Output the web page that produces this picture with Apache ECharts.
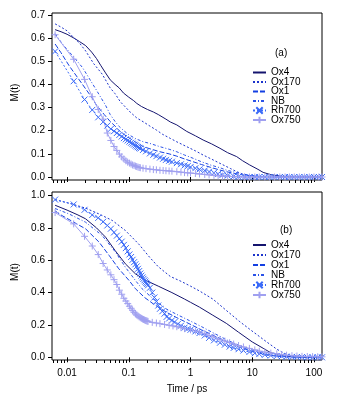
<!DOCTYPE html>
<html><head><meta charset="utf-8">
<script src="https://cdn.jsdelivr.net/npm/echarts@6/dist/echarts.min.js"></script>
<style>html,body{margin:0;padding:0;background:#fff}#c{width:347px;height:401px}</style>
</head><body><div id="c"></div>
<script>
// ---------- data ----------
var seriesNames = ['Ox4','Ox170','Ox1','NB','Rh700','Ox750'];
var majorTicksX = [0.01,0.1,1,10,100];
var minorTicksX = [0.006,0.007,0.008,0.009,0.02,0.03,0.04,0.05,0.06,0.07,0.08,0.09,0.2,0.3,0.4,0.5,0.6,0.7,0.8,0.9,2,3,4,5,6,7,8,9,20,30,40,50,60,70,80,90];
var topTicksY = [0,0.1,0.2,0.3,0.4,0.5,0.6,0.7];
var botTicksY = [0,0.2,0.4,0.6,0.8,1.0];

// panel (a)
var topOx4 = [[0.0064,0.637],[0.008,0.628],[0.01,0.617],[0.013,0.600],[0.016,0.585],[0.02,0.568],[0.025,0.540],[0.03,0.512],[0.035,0.483],[0.042,0.450],[0.05,0.420],[0.06,0.400],[0.07,0.385],[0.082,0.363],[0.1,0.345],[0.12,0.330],[0.135,0.318],[0.16,0.305],[0.2,0.292],[0.25,0.281],[0.3,0.270],[0.4,0.250],[0.47,0.238],[0.6,0.225],[0.87,0.197],[1.2,0.178],[1.6,0.160],[2.2,0.143],[3,0.124],[4,0.105],[5.6,0.088],[7,0.070],[9.1,0.052],[12.4,0.033],[15,0.020],[20,0.010],[30,0.003],[50,0.001],[80,0],[135,0]];
var topOx170 = [[0.0064,0.662],[0.008,0.648],[0.01,0.632],[0.0128,0.603],[0.016,0.578],[0.02,0.545],[0.027,0.49],[0.037,0.445],[0.05,0.385],[0.06,0.36],[0.073,0.325],[0.09,0.3],[0.105,0.281],[0.135,0.255],[0.173,0.238],[0.22,0.22],[0.28,0.203],[0.35,0.185],[0.47,0.167],[0.6,0.152],[0.87,0.131],[1.2,0.113],[1.6,0.095],[2.2,0.077],[3,0.059],[4.4,0.037],[5.6,0.023],[7.5,0.01],[10,0.004],[15,0.001],[25,0],[135,0]];
var topOx1 = [[0.0064,0.575],[0.0079,0.539],[0.0108,0.481],[0.0147,0.431],[0.02,0.381],[0.025,0.345],[0.03,0.31],[0.04,0.27],[0.05,0.24],[0.06,0.22],[0.07,0.2],[0.085,0.183],[0.1,0.17],[0.13,0.15],[0.173,0.131],[0.22,0.122],[0.32,0.109],[0.45,0.1],[0.6,0.09],[0.8,0.078],[1.1,0.066],[1.5,0.054],[2.1,0.042],[3,0.03],[3.8,0.023],[5,0.016],[7,0.009],[10,0.004],[14,0.001],[20,0],[135,0]];
var topNB = [[0.0064,0.62],[0.0084,0.575],[0.0122,0.525],[0.0177,0.474],[0.024,0.417],[0.03,0.375],[0.035,0.345],[0.042,0.31],[0.05,0.27],[0.06,0.24],[0.07,0.218],[0.085,0.198],[0.1,0.183],[0.13,0.165],[0.173,0.152],[0.22,0.145],[0.32,0.131],[0.45,0.12],[0.6,0.109],[0.8,0.095],[1.1,0.081],[1.5,0.066],[2.1,0.052],[3,0.04],[3.8,0.03],[5,0.022],[7,0.013],[10,0.006],[14,0.002],[20,0],[135,0]];
var topRh700 = [[0.0064,0.543],[0.0128,0.414],[0.0192,0.335],[0.0256,0.290],[0.032,0.258],[0.0384,0.238],[0.0448,0.222],[0.0512,0.208],[0.0576,0.198],[0.064,0.19],[0.0704,0.182],[0.0768,0.175],[0.0832,0.168],[0.0896,0.163],[0.096,0.158],[0.1024,0.153],[0.1088,0.148],[0.1152,0.144],[0.1216,0.140],[0.128,0.136],[0.1344,0.132],[0.1408,0.129],[0.1472,0.126],[0.1536,0.123],[0.17,0.117],[0.19,0.111],[0.22,0.102],[0.25,0.096],[0.28,0.09],[0.32,0.084],[0.36,0.079],[0.4,0.074],[0.45,0.07],[0.5,0.066],[0.6,0.06],[0.7,0.055],[0.8,0.05],[0.9,0.047],[1,0.043],[1.2,0.038],[1.4,0.033],[1.7,0.028],[2,0.023],[2.4,0.018],[2.8,0.013],[3.3,0.009],[4,0.006],[5,0.003],[6,0.001],[7.5,0],[9,0],[11,0],[13,0],[16,0],[19,0],[23,0],[28,0],[34,0],[40,0],[48,0],[58,0],[70,0],[84,0],[100,0],[120,0],[135,0]];
var topOx750 = [[0.0064,0.615],[0.0128,0.509],[0.0192,0.422],[0.0256,0.347],[0.032,0.292],[0.0384,0.25],[0.0448,0.19],[0.0512,0.158],[0.0576,0.132],[0.064,0.115],[0.0704,0.099],[0.0768,0.087],[0.0832,0.078],[0.0896,0.07],[0.096,0.064],[0.1024,0.06],[0.1088,0.056],[0.1152,0.052],[0.1216,0.05],[0.128,0.047],[0.1344,0.045],[0.1408,0.043],[0.1472,0.041],[0.1536,0.04],[0.17,0.038],[0.19,0.036],[0.22,0.034],[0.25,0.032],[0.28,0.031],[0.32,0.029],[0.36,0.028],[0.4,0.027],[0.45,0.026],[0.5,0.025],[0.6,0.023],[0.7,0.021],[0.8,0.019],[0.9,0.018],[1,0.017],[1.2,0.015],[1.4,0.013],[1.7,0.011],[2,0.009],[2.4,0.007],[2.8,0.005],[3.3,0.004],[4,0.003],[5,0.002],[6,0.001],[7.5,0],[9,0],[11,0],[13,0],[16,0],[19,0],[23,0],[28,0],[34,0],[40,0],[48,0],[58,0],[70,0],[84,0],[100,0],[120,0],[135,0]];

// panel (b)
var botOx4 = [[0.0064,0.94],[0.01,0.91],[0.015,0.88],[0.02,0.856],[0.03,0.80],[0.042,0.743],[0.06,0.66],[0.088,0.578],[0.128,0.516],[0.19,0.475],[0.3,0.44],[0.5,0.40],[0.8,0.36],[1,0.34],[1.4,0.31],[2.3,0.26],[3.8,0.21],[6,0.155],[10,0.095],[15,0.056],[20,0.028],[33,0.008],[50,0.002],[135,0]];
var botOx170 = [[0.0064,0.975],[0.012,0.948],[0.02,0.922],[0.033,0.886],[0.054,0.846],[0.088,0.784],[0.145,0.70],[0.216,0.62],[0.3,0.56],[0.47,0.50],[0.7,0.47],[1,0.44],[1.4,0.41],[2.3,0.36],[3.8,0.29],[6.3,0.22],[10.3,0.158],[17,0.096],[25,0.05],[35,0.02],[50,0.007],[80,0.002],[135,0]];
var botNB = [[0.0064,0.92],[0.0108,0.886],[0.02,0.835],[0.037,0.753],[0.061,0.65],[0.088,0.557],[0.128,0.475],[0.164,0.424],[0.25,0.36],[0.4,0.30],[0.6,0.265],[0.87,0.235],[1.5,0.19],[2.5,0.145],[4,0.105],[6,0.075],[10,0.043],[18,0.016],[30,0.005],[50,0.001],[135,0]];
var botOx1 = [[0.0064,0.905],[0.0083,0.876],[0.02,0.794],[0.033,0.712],[0.048,0.63],[0.069,0.547],[0.101,0.475],[0.128,0.424],[0.18,0.37],[0.25,0.33],[0.4,0.28],[0.6,0.245],[0.87,0.215],[1.5,0.17],[2.5,0.13],[4,0.095],[6,0.065],[10,0.036],[18,0.013],[30,0.004],[50,0.001],[135,0]];
var botRh700 = [[0.0064,0.975],[0.0128,0.945],[0.0192,0.912],[0.0256,0.88],[0.032,0.862],[0.0384,0.838],[0.0448,0.815],[0.0512,0.795],[0.0576,0.772],[0.064,0.752],[0.0704,0.733],[0.0768,0.715],[0.0832,0.695],[0.0896,0.675],[0.096,0.655],[0.1024,0.636],[0.1088,0.62],[0.1152,0.603],[0.1216,0.588],[0.128,0.575],[0.1344,0.562],[0.1408,0.547],[0.1472,0.533],[0.1536,0.518],[0.16,0.505],[0.1664,0.494],[0.1728,0.485],[0.1792,0.476],[0.1856,0.468],[0.192,0.46],[0.1984,0.453],[0.2048,0.445],[0.22,0.43],[0.24,0.40],[0.26,0.37],[0.28,0.345],[0.3,0.32],[0.32,0.30],[0.35,0.285],[0.38,0.27],[0.41,0.25],[0.45,0.24],[0.5,0.228],[0.55,0.218],[0.62,0.205],[0.7,0.195],[0.8,0.183],[0.9,0.176],[1,0.17],[1.2,0.16],[1.4,0.15],[1.7,0.135],[2,0.12],[2.4,0.105],[3,0.09],[3.6,0.078],[4.3,0.066],[5,0.058],[6,0.05],[7.2,0.042],[9,0.033],[11,0.025],[13,0.02],[16,0.015],[20,0.011],[25,0.008],[30,0.006],[36,0.004],[44,0.003],[53,0.002],[64,0.001],[78,0],[95,0],[115,0],[135,0]];
var botOx750 = [[0.0064,0.895],[0.0128,0.825],[0.0192,0.748],[0.0256,0.688],[0.032,0.635],[0.0384,0.58],[0.0448,0.54],[0.0512,0.51],[0.0576,0.48],[0.064,0.45],[0.0704,0.415],[0.0768,0.39],[0.0832,0.365],[0.0896,0.348],[0.096,0.332],[0.1024,0.316],[0.1088,0.303],[0.1152,0.29],[0.1216,0.278],[0.128,0.268],[0.1344,0.262],[0.1408,0.256],[0.1472,0.25],[0.1536,0.245],[0.16,0.241],[0.1664,0.237],[0.1728,0.234],[0.1792,0.231],[0.1856,0.228],[0.192,0.226],[0.1984,0.224],[0.2048,0.222],[0.24,0.216],[0.28,0.212],[0.32,0.208],[0.38,0.203],[0.45,0.198],[0.52,0.194],[0.6,0.189],[0.7,0.183],[0.8,0.177],[1,0.17],[1.2,0.163],[1.4,0.157],[1.7,0.146],[2,0.135],[2.4,0.125],[3,0.11],[3.6,0.1],[4.3,0.09],[5,0.082],[6,0.073],[7.2,0.064],[9,0.055],[11,0.046],[13,0.038],[16,0.032],[20,0.026],[25,0.021],[30,0.017],[36,0.013],[44,0.01],[53,0.008],[64,0.006],[78,0.005],[95,0.004],[115,0.003],[135,0.003]];

// ---------- styles ----------
var FONT = 'Liberation Sans, Arial, sans-serif';
var styles = {
  Ox4:   {color:'#14146e', type:'solid', symbol:'none'},
  Ox170: {color:'#1c34cc', type:[2,2], symbol:'none'},
  Ox1:   {color:'#1440e2', type:[5,2], symbol:'none'},
  NB:    {color:'#2a52e8', type:[3,2,1,2], symbol:'none'},
  Rh700: {color:'#3a6af8', type:[2,2], symbol:'path://M0,0L10,10M10,0L0,10', size:6},
  Ox750: {color:'#a0a0f0', type:'solid', symbol:'path://M5,0L5,10M0,5L10,5', size:7}
};
function mk(name, data, xi, yi) {
  var s = styles[name];
  return {
    name: name, type: 'line', xAxisIndex: xi, yAxisIndex: yi, data: data,
    lineStyle: {color: s.color, width: 1, type: s.type},
    itemStyle: {color: s.color, borderColor: s.color, borderWidth: 1},
    symbol: s.symbol, showSymbol: s.symbol !== 'none', showAllSymbol: true,
    symbolSize: s.size || 4, animation: false, silent: true
  };
}

var xMin = 0.0057, xMax = 135;
function xMajor(gi, showLabel) {
  return {type:'log', gridIndex:gi, min:xMin, max:xMax, position:'bottom',
    axisLine:{show:false}, splitLine:{show:false}, minorTick:{show:false},
    axisTick:{show:true, inside:false, length:5, customValues:majorTicksX, lineStyle:{color:'#000', width:1}},
    axisLabel:{show:showLabel, customValues:majorTicksX, color:'#000', fontSize:10, fontFamily:FONT, margin:8,
      formatter:function(v){ return String(+v.toPrecision(3)); }},
    name: showLabel ? 'Time / ps' : '', nameLocation:'middle', nameGap:24,
    nameTextStyle:{color:'#000', fontSize:10, fontFamily:FONT}};
}
function xMinor(gi) {
  return {type:'log', gridIndex:gi, min:xMin, max:xMax, position:'bottom',
    axisLine:{show:false}, splitLine:{show:false}, axisLabel:{show:false},
    axisTick:{show:true, inside:false, length:3, customValues:minorTicksX, lineStyle:{color:'#000', width:1}}};
}
function yAx(gi, mn, mx, ticks) {
  return {type:'value', gridIndex:gi, min:mn, max:mx,
    axisLine:{show:false}, splitLine:{show:false},
    axisTick:{show:true, inside:false, length:4, customValues:ticks, lineStyle:{color:'#000'}},
    axisLabel:{customValues:ticks, color:'#000', fontSize:10, fontFamily:FONT, margin:7,
      formatter:function(v){ return v.toFixed(1); }},
    name:'M(t)', nameLocation:'middle', nameGap:30.5, nameRotate:90,
    nameTextStyle:{color:'#000', fontSize:10, fontFamily:FONT, padding:[0,0,0,8]}};
}
function legendItems() {
  return seriesNames.map(function(n){
    return styles[n].symbol === 'none' ? {name:n, itemStyle:{opacity:0}} : {name:n};
  });
}
function legend(top, gap) {
  return {orient:'vertical', left:252, top:top, padding:0, itemGap:gap, itemWidth:13, itemHeight:8,
    data:legendItems(), selectedMode:false,
    textStyle:{color:'#000', fontSize:10, fontFamily:FONT, lineHeight:8}};
}

var chart = echarts.init(document.getElementById('c'), null, {renderer:'canvas'});
chart.setOption({
  animation:false,
  grid:[
    {left:52, top:13, width:270, height:167, show:true, borderColor:'#000', borderWidth:1, backgroundColor:'transparent'},
    {left:52, top:192, width:270, height:168, show:true, borderColor:'#000', borderWidth:1, backgroundColor:'transparent'}
  ],
  xAxis:[xMajor(0,false), xMinor(0), xMajor(1,true), xMinor(1)],
  yAxis:[yAx(0,-0.013,0.709,topTicksY), yAx(1,-0.0167,1.022,botTicksY)],
  legend:[legend(67.5, -0.5), legend(240, 0)],
  graphic:[
    {type:'text', left:275, top:48, style:{text:'(a)', fill:'#000', font:'10px '+FONT}},
    {type:'text', left:280, top:225, style:{text:'(b)', fill:'#000', font:'10px '+FONT}}
  ],
  series:[
    mk('Ox4', topOx4, 0, 0), mk('Ox170', topOx170, 0, 0), mk('Ox1', topOx1, 0, 0),
    mk('NB', topNB, 0, 0), mk('Rh700', topRh700, 0, 0), mk('Ox750', topOx750, 0, 0),
    mk('Ox4', botOx4, 2, 1), mk('Ox170', botOx170, 2, 1), mk('Ox1', botOx1, 2, 1),
    mk('NB', botNB, 2, 1), mk('Rh700', botRh700, 2, 1), mk('Ox750', botOx750, 2, 1)
  ]
});
</script></body></html>
